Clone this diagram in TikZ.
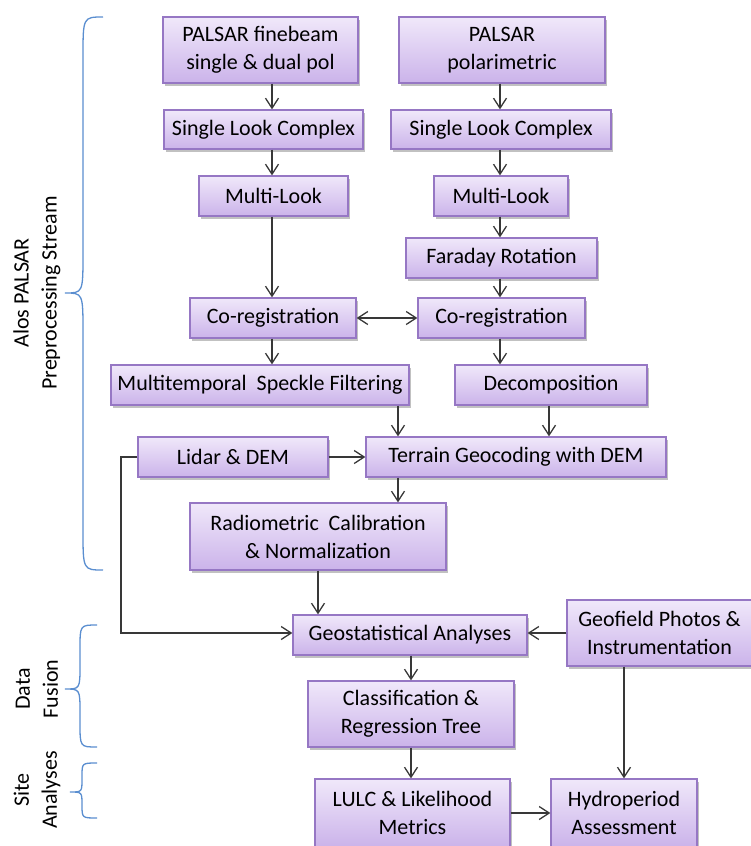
\documentclass[tikz,border=0pt]{standalone}
\usepackage{fontspec}
\setmainfont{Carlito}
\usetikzlibrary{arrows.meta,shadows}
\definecolor{boxtop}{HTML}{F0E8FA}
\definecolor{boxbot}{HTML}{CBB3EA}
\definecolor{boxedge}{HTML}{9677C4}
\definecolor{lnc}{HTML}{383838}
\definecolor{brc}{HTML}{5A8ED0}
\tikzset{
  box/.style={draw=boxedge, line width=1.3pt, top color=boxtop, bottom color=boxbot,
    align=center, inner sep=0pt, font=\fontsize{22}{28}\selectfont,
    drop shadow={shadow xshift=2pt, shadow yshift=-2.5pt, opacity=.35, fill=black!70}},
  arr/.style={draw=lnc, line width=1.3pt, -{Straight Barb[length=10pt,width=13pt,line width=1.3pt]}},
  darr/.style={draw=lnc, line width=1.3pt, {Straight Barb[length=10pt,width=13pt,line width=1.3pt]}-{Straight Barb[length=10pt,width=13pt,line width=1.3pt]}},
  ln/.style={draw=lnc, line width=1.3pt},
  brace/.style={draw=brc, line width=1.3pt},
  side/.style={rotate=90, align=center, font=\fontsize{22}{28}\selectfont}
}
\newcommand{\mybrace}[7]{% xend, xv, xtip, ytop, ymid, ybot, r
  \draw[brace] (#1,#4) .. controls (#2,#4) .. (#2,#4+#7) -- (#2,#5-#7)
    .. controls (#2,#5) .. (#3,#5) .. controls (#2,#5) .. (#2,#5+#7)
    -- (#2,#6-#7) .. controls (#2,#6) .. (#1,#6);}
\begin{document}
\begin{tikzpicture}[x=1pt,y=-1pt]
\useasboundingbox (0,0) rectangle (751,846);
% boxes
\node[box, minimum width=195pt, minimum height=66pt] (fine) at (260.5,50) {PALSAR finebeam\\single \& dual pol};
\node[box, minimum width=206pt, minimum height=66pt] (polar) at (502,50) {PALSAR\\polarimetric};
\node[box, minimum width=199pt, minimum height=39pt] (slcL) at (263.5,129.5) {Single Look Complex};
\node[box, minimum width=220pt, minimum height=39pt] (slcR) at (501,129.5) {Single Look Complex};
\node[box, minimum width=149pt, minimum height=40pt] (mlL) at (273.5,196) {Multi-Look};
\node[box, minimum width=134pt, minimum height=40pt] (mlR) at (501,196) {Multi-Look};
\node[box, minimum width=191pt, minimum height=40pt] (far) at (501.5,258) {Faraday Rotation};
\node[box, minimum width=166pt, minimum height=40pt] (crL) at (273,318) {Co-registration};
\node[box, minimum width=167pt, minimum height=40pt] (crR) at (501.5,318) {Co-registration};
\node[box, minimum width=298pt, minimum height=40pt] (mts) at (260,385) {Multitemporal\ \ Speckle Filtering};
\node[box, minimum width=192pt, minimum height=40pt] (dec) at (551,385) {Decomposition};
\node[box, minimum width=190pt, minimum height=40pt] (lid) at (233,457) {Lidar \& DEM};
\node[box, minimum width=300pt, minimum height=40pt] (ter) at (516,457) {Terrain Geocoding with DEM};
\node[box, minimum width=256pt, minimum height=67pt] (rad) at (318,536.5) {Radiometric\ \ Calibration\\\& Normalization};
\node[box, minimum width=234pt, minimum height=40pt] (geo) at (410,635) {Geostatistical Analyses};
\node[box, minimum width=185pt, minimum height=66pt] (gf) at (659.5,633) {Geofield Photos \&\\Instrumentation};
\node[box, minimum width=206pt, minimum height=66pt] (crt) at (411,714) {Classification \&\\Regression Tree};
\node[box, minimum width=195pt, minimum height=68pt] (lulc) at (412.5,813) {LULC \& Likelihood\\Metrics};
\node[box, minimum width=146pt, minimum height=68pt] (hyd) at (624,813) {Hydroperiod\\Assessment};
% connectors
\draw[arr] (fine.south -| 272,0) -- (slcL.north -| 272,0);
\draw[arr] (polar.south -| 500,0) -- (slcR.north -| 500,0);
\draw[arr] (slcL.south -| 272,0) -- (mlL.north -| 272,0);
\draw[arr] (slcR.south -| 500,0) -- (mlR.north -| 500,0);
\draw[arr] (mlL.south -| 272,0) -- (crL.north -| 272,0);
\draw[arr] (mlR.south -| 500,0) -- (far.north -| 500,0);
\draw[arr] (far.south -| 500,0) -- (crR.north -| 500,0);
\draw[darr] (crL.east) -- (crR.west);
\draw[arr] (crL.south -| 272,0) -- (mts.north -| 272,0);
\draw[arr] (crR.south -| 500,0) -- (dec.north -| 500,0);
\draw[arr] (mts.south -| 398,0) -- (ter.north -| 398,0);
\draw[arr] (dec.south -| 549,0) -- (ter.north -| 549,0);
\draw[arr] (lid.east) -- (ter.west);
\draw[arr] (ter.south -| 398,0) -- (rad.north -| 398,0);
\draw[arr] (rad.south -| 318,0) -- (geo.north -| 318,0);
\coordinate (c1) at (121,457);
\coordinate (c2) at (121,633);
\draw[arr] (lid.west) -- (c1) -- (c2) -- (geo.west |- c2);
\draw[arr] (gf.west |- 0,633) -- (geo.east |- 0,633);
\draw[arr] (geo.south -| 411,0) -- (crt.north -| 411,0);
\draw[arr] (crt.south -| 411,0) -- (lulc.north -| 411,0);
\draw[arr] (lulc.east) -- (hyd.west);
\draw[arr] (gf.south -| 624,0) -- (hyd.north -| 624,0);
% braces
\mybrace{103}{83}{65}{17}{293}{570}{40}
\mybrace{97}{80}{65}{625}{689}{747}{24}
\mybrace{97}{82}{70}{763}{792}{818}{13}
% side labels
\node[side] (lab1) at (37,293) {Alos PALSAR\\Preprocessing Stream};
\node[side] (lab2) at (37,689) {Data\\Fusion};
\node[side] (lab3) at (37,790) {Site\\Analyses};
\end{tikzpicture}
\end{document}
